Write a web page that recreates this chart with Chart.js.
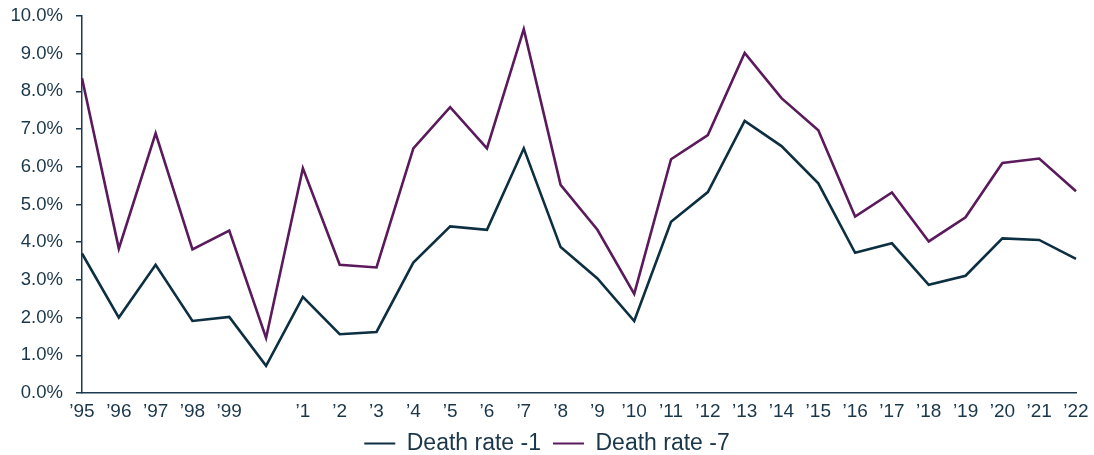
<!DOCTYPE html>
<html>
<head>
<meta charset="utf-8">
<script src="https://cdn.jsdelivr.net/npm/chart.js@4/dist/chart.umd.min.js"></script>
<style>
  html, body { margin: 0; padding: 0; background: #fff; }
  #wrap { width: 1094px; height: 455px; }
</style>
</head>
<body>
<div id="wrap"><canvas id="myChart"></canvas></div>
<script>
// data (percent)
const years = ['’95', '’96', '’97', '’98', '’99', '', '’1', '’2', '’3', '’4', '’5', '’6', '’7', '’8', '’9',
    '’10', '’11', '’12', '’13', '’14', '’15', '’16', '’17', '’18', '’19', '’20', '’21', '’22'];
const deathRate1 = [3.70, 2.00, 3.40, 1.91, 2.02, 0.72, 2.55, 1.56, 1.62, 3.46, 4.42, 4.33, 6.49, 3.87,
    3.04, 1.91, 4.54, 5.33, 7.22, 6.55, 5.56, 3.72, 3.97, 2.87, 3.11, 4.10, 4.06, 3.56];
const deathRate7 = [8.35, 3.83, 6.89, 3.81, 4.31, 1.46, 5.96, 3.40, 3.33, 6.49, 7.58, 6.49, 9.65, 5.52,
    4.33, 2.63, 6.20, 6.84, 9.02, 7.82, 6.97, 4.68, 5.32, 4.02, 4.66, 6.10, 6.22, 5.35];
const yTicks = [0, 1, 2, 3, 4, 5, 6, 7, 8, 9, 10];

const navy = '#0d2f42';
const plum = '#5a1a5c';
const textColor = '#1a3649';
const axisColor = '#1c3a4f';

Chart.defaults.font.family = 'Arial, "Liberation Sans", sans-serif';
Chart.defaults.color = textColor;

// pull the legend a bit closer to the axis labels
const legendSqueeze = {
    id: 'legendSqueeze',
    beforeInit(chart) {
        const fit = chart.legend.fit;
        chart.legend.fit = function () {
            fit.call(this);
            this.height -= 10;
        };
    }
};

let ctx = document.getElementById('myChart').getContext('2d');

let chart = new Chart(ctx, {
    type: 'line',
    data: {
        labels: years,
        datasets: [
            {
                label: 'Death rate -1',
                data: deathRate1,
                borderColor: navy,
                backgroundColor: navy,
                borderWidth: 2.6,
                pointRadius: 0,
                tension: 0
            },
            {
                label: 'Death rate -7',
                data: deathRate7,
                borderColor: plum,
                backgroundColor: plum,
                borderWidth: 2.6,
                pointRadius: 0,
                tension: 0
            }
        ]
    },
    options: {
        responsive: true,
        maintainAspectRatio: false,
        animation: false,
        layout: { padding: { top: 16, right: 0, left: 0, bottom: 0 } },
        scales: {
            x: {
                offset: false,
                afterFit: (axis) => {
                    axis.height = 27;
                    axis.paddingRight = 18;
                    axis.paddingLeft = 0;
                },
                grid: { display: true, drawOnChartArea: false, drawTicks: false },
                border: { display: true, color: axisColor, width: 1.5 },
                ticks: {
                    padding: 7,
                    autoSkip: false,
                    maxRotation: 0,
                    font: { size: 19 }
                }
            },
            y: {
                min: 0,
                max: 10,
                afterBuildTicks: (axis) => {
                    axis.ticks = yTicks.map(v => ({ value: v }));
                },
                afterFit: (axis) => {
                    axis.width = 82;
                    axis.paddingTop = 0;
                    axis.paddingBottom = 0;
                },
                grid: { display: true, drawOnChartArea: false, drawTicks: true, tickLength: 6, color: axisColor, lineWidth: 1.5 },
                border: { display: true, color: axisColor, width: 1.5 },
                ticks: {
                    padding: 13,
                    font: { size: 18.5 },
                    callback: (v) => v.toFixed(1) + '%'
                }
            }
        },
        plugins: {
            legend: {
                display: true,
                position: 'bottom',
                labels: {
                    boxWidth: 31,
                    boxHeight: 2,
                    padding: 12,
                    font: { size: 23 },
                    generateLabels: (c) => Chart.defaults.plugins.legend.labels.generateLabels(c)
                        .map(item => Object.assign(item, { lineWidth: 0 }))
                }
            },
            tooltip: { enabled: false }
        }
    },
    plugins: [legendSqueeze]
});
</script>
</body>
</html>
